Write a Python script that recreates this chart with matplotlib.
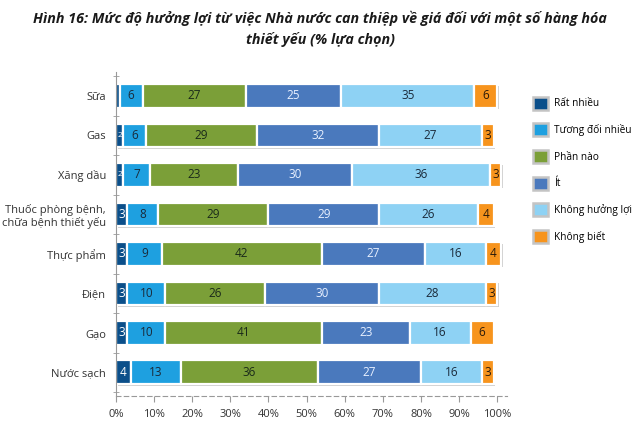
import matplotlib.pyplot as plt
import matplotlib.patheffects as pe
from matplotlib.patches import Patch
from matplotlib.ticker import FixedLocator

plt.rcParams['font.family'] = ['Open Sans', 'Noto Sans', 'DejaVu Sans']

categories = ["Sữa", "Gas", "Xăng dầu", "Thuốc phòng bệnh,\nchữa bệnh thiết yếu",
              "Thực phẩm", "Điện", "Gạo", "Nước sạch"]
series_names = ["Rất nhiều", "Tương đối nhiều", "Phần nào", "Ít",
                "Không hưởng lợi", "Không biết"]
rat_nhieu = [1, 2, 2, 3, 3, 3, 3, 4]
tuong_doi = [6, 6, 7, 8, 9, 10, 10, 13]
phan_nao = [27, 29, 23, 29, 42, 26, 41, 36]
it = [25, 32, 30, 29, 27, 30, 23, 27]
khong_huong = [35, 27, 36, 26, 16, 28, 16, 16]
khong_biet = [6, 3, 3, 4, 4, 3, 6, 3]
xticks = [0, 10, 20, 30, 40, 50, 60, 70, 80, 90, 100]

series = [rat_nhieu, tuong_doi, phan_nao, it, khong_huong, khong_biet]
colors = ["#0b4f8a", "#1ea0e0", "#7b9f38", "#4a79bd", "#8ed2f4", "#f7941d"]
text_colors = ["white", "#1a2a3a", "#1a2a1a", "#e8f0ff", "#1a2a3a", "#2a1a0a"]

fig = plt.figure(figsize=(6.4, 4.3), dpi=100)
ax = fig.add_axes([0.181, 0.079, 0.611, 0.753])

ypos = list(range(len(categories)))
left = [0] * len(categories)
shadow = [pe.SimplePatchShadow(offset=(1.2, -1.2), alpha=0.35, shadow_rgbFace="#777777"), pe.Normal()]
for vals, name, col, tc in zip(series, series_names, colors, text_colors):
    bars = ax.barh(ypos, vals, left=left, height=0.6, color=col, edgecolor="white",
                   linewidth=1.6, label=name)
    for b in bars:
        b.set_path_effects(shadow)
    for y, v, l in zip(ypos, vals, left):
        if v >= 2:
            ax.text(l + v / 2, y, str(v), ha="center", va="center",
                    fontsize=8.5 if v >= 3 else 6, color=tc)
    left = [a + b for a, b in zip(left, vals)]

ax.set_xlim(0, 102.5)
ax.set_ylim(7.6, -0.6)
ax.set_yticks(ypos)
ax.set_yticklabels(categories, fontsize=8, color="#333333", linespacing=1.15)
ax.yaxis.set_minor_locator(FixedLocator([i - 0.5 for i in range(len(categories) + 1)]))
ax.tick_params(axis="y", which="major", length=0, pad=7)
ax.tick_params(axis="y", which="minor", length=5, direction="inout", color="#999999")
ax.set_xticks(xticks)
ax.set_xticklabels([f"{t}%" for t in xticks], fontsize=8, color="#333333")
ax.tick_params(axis="x", length=4, color="#999999", pad=5)

for s in ["top", "right"]:
    ax.spines[s].set_visible(False)
ax.spines["left"].set_color("#999999")
ax.spines["bottom"].set_color("#999999")
ax.spines["bottom"].set_linestyle((0, (4, 3)))

handles = [Patch(facecolor=c, edgecolor="#c4c4c4", linewidth=1.8) for c in colors]
fig.legend(handles, series_names, loc="upper left", bbox_to_anchor=(0.826, 0.785),
           frameon=False, fontsize=7.3, handlelength=1.5, handleheight=1.6,
           labelspacing=1.35, handletextpad=0.6, borderaxespad=0)

fig.text(0.5, 0.933, "Hình 16: Mức độ hưởng lợi từ việc Nhà nước can thiệp về giá đối với một số hàng hóa\nthiết yếu (% lựa chọn)",
         ha="center", va="center", fontsize=10.3, fontweight="bold", style="italic",
         color="#1a1a1a", linespacing=1.5)

fig.savefig("out.png", dpi=100)
